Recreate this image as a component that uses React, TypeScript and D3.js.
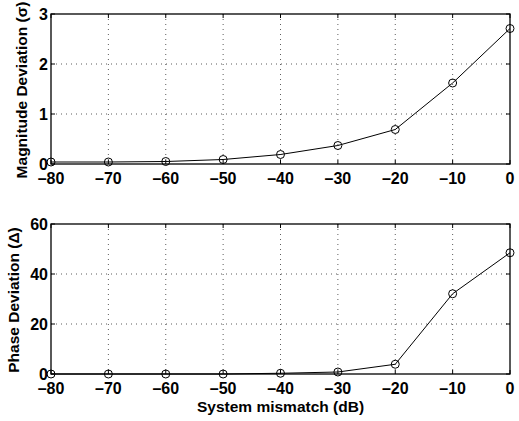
import React from "react";
import * as d3 from "d3";

const xValues = [-80, -70, -60, -50, -40, -30, -20, -10, 0];
const magnitudeValues = [0.04, 0.04, 0.05, 0.09, 0.19, 0.37, 0.69, 1.62, 2.71];
const phaseValues = [0, 0, 0, 0, 0.3, 0.8, 3.9, 32.1, 48.5];
const xTicks = [-80, -70, -60, -50, -40, -30, -20, -10, 0];
const magTicks = [0, 1, 2, 3];
const phaseTicks = [0, 20, 40, 60];

const W = 519;
const H = 421;
const left = 51;
const right = 510;
const font = "'Liberation Sans', Arial, Helvetica, sans-serif";

function fmt(v: number) {
  return v < 0 ? "\u2013" + Math.abs(v) : String(v);
}

function Panel({
  top,
  bottom,
  values,
  yDomain,
  yTicks,
  yLabel,
  yLabelX,
}: {
  top: number;
  bottom: number;
  values: number[];
  yDomain: [number, number];
  yTicks: number[];
  yLabel: string;
  yLabelX: number;
}) {
  const x = d3.scaleLinear().domain([-80, 0]).range([left, right]);
  const y = d3.scaleLinear().domain(yDomain).range([bottom, top]);
  const line = d3
    .line<number>()
    .x((_, i) => x(xValues[i]))
    .y((d) => y(d));
  const tl = 4;
  return (
    <g>
      {xTicks.slice(1, -1).map((t) => (
        <line
          key={"gx" + t}
          x1={x(t)}
          x2={x(t)}
          y1={top}
          y2={bottom}
          stroke="#333"
          strokeWidth={0.8}
          strokeDasharray="1,4"
        />
      ))}
      {yTicks.slice(1, -1).map((t) => (
        <line
          key={"gy" + t}
          x1={left}
          x2={right}
          y1={y(t)}
          y2={y(t)}
          stroke="#333"
          strokeWidth={0.8}
          strokeDasharray="1,4"
        />
      ))}
      {xTicks.map((t) => (
        <g key={"tx" + t}>
          <line x1={x(t)} x2={x(t)} y1={bottom} y2={bottom - tl} stroke="#000" />
          <line x1={x(t)} x2={x(t)} y1={top} y2={top + tl} stroke="#000" />
          <text
            x={x(t)}
            y={bottom + 20}
            textAnchor="middle"
            fontFamily={font}
            fontWeight="bold"
            fontSize={16}
          >
            {fmt(t)}
          </text>
        </g>
      ))}
      {yTicks.map((t) => (
        <g key={"ty" + t}>
          <line x1={left} x2={left + tl} y1={y(t)} y2={y(t)} stroke="#000" />
          <line x1={right} x2={right - tl} y1={y(t)} y2={y(t)} stroke="#000" />
          <text
            x={left - 3}
            y={y(t) + 5.5}
            textAnchor="end"
            fontFamily={font}
            fontWeight="bold"
            fontSize={16}
          >
            {fmt(t)}
          </text>
        </g>
      ))}
      <rect
        x={left}
        y={top}
        width={right - left}
        height={bottom - top}
        fill="none"
        stroke="#000"
        strokeWidth={1.3}
      />
      <path d={line(values) || ""} fill="none" stroke="#000" strokeWidth={1} />
      {values.map((v, i) => (
        <circle
          key={"c" + i}
          cx={x(xValues[i])}
          cy={y(v)}
          r={4}
          fill="none"
          stroke="#000"
          strokeWidth={1}
        />
      ))}
      <text
        transform={`translate(${yLabelX},${(top + bottom) / 2 + 1}) rotate(-90)`}
        textAnchor="middle"
        fontFamily={font}
        fontWeight="bold"
        fontSize={15.5}
      >
        {yLabel}
      </text>
    </g>
  );
}

export default function App() {
  return (
    <svg
      width={W}
      height={H}
      style={{ display: "block", position: "absolute", left: 0, top: 0, background: "#fff" }}
    >
      <rect x={0} y={0} width={W} height={H} fill="#fff" />
      <Panel
        top={14}
        bottom={164}
        values={magnitudeValues}
        yDomain={[0, 3]}
        yTicks={magTicks}
        yLabel="Magnitude Deviation (σ)"
        yLabelX={27}
      />
      <Panel
        top={224}
        bottom={374}
        values={phaseValues}
        yDomain={[0, 60]}
        yTicks={phaseTicks}
        yLabel="Phase Deviation (Δ)"
        yLabelX={19}
      />
      <text
        x={(left + right) / 2}
        y={412}
        textAnchor="middle"
        fontFamily={font}
        fontWeight="bold"
        fontSize={15.5}
      >
        System mismatch (dB)
      </text>
    </svg>
  );
}
